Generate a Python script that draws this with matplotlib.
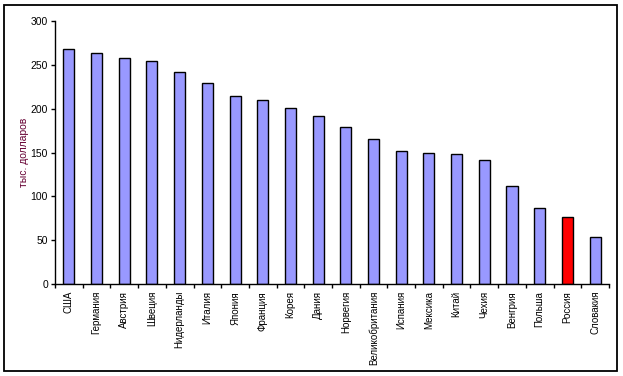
import matplotlib.pyplot as plt
import numpy as np
from matplotlib.patches import Rectangle

countries = ['США', 'Германия', 'Австрия', 'Швеция', 'Нидерланды', 'Италия',
             'Япония', 'Франция', 'Корея', 'Дания', 'Норвегия', 'Великобритания',
             'Испания', 'Мексика', 'Китай', 'Чехия', 'Венгрия', 'Польша',
             'Россия', 'Словакия']
values = [268, 263, 258, 254, 242, 229, 214, 210, 201, 192, 179, 166,
          152, 149, 148, 142, 112, 87, 76, 54]
highlight = 'Россия'

plt.rcParams['font.family'] = ['Liberation Sans', 'DejaVu Sans']

fig = plt.figure(figsize=(6.23, 3.76), dpi=100)
ax = fig.add_axes([0.0883, 0.2447, 0.8892, 0.6993])

x = np.arange(len(countries))
colors = ['#FF0000' if c == highlight else '#9999FF' for c in countries]
ax.bar(x, values, width=0.4, color=colors, edgecolor='black', linewidth=1)

ax.set_xlim(-0.5, len(countries) - 0.5)
ax.set_ylim(0, 300)
ax.set_yticks(range(0, 301, 50))
ax.tick_params(axis='y', direction='out', length=3, width=1, labelsize=7.5, pad=2)

ax.set_xticks(x)
ax.set_xticklabels(countries, rotation=90, fontsize=7)
ax.tick_params(axis='x', which='major', length=0, pad=5)
ax.set_xticks(np.arange(-0.5, len(countries), 1), minor=True)
ax.tick_params(axis='x', which='minor', direction='out', length=3, width=1)

for s in ['top', 'right']:
    ax.spines[s].set_visible(False)
for s in ['left', 'bottom']:
    ax.spines[s].set_linewidth(1)

ax.set_ylabel('тыс. долларов', fontsize=7.5, color='#660033', labelpad=1)

fig.patches.append(Rectangle((0.007, 0.013), 0.983, 0.975, transform=fig.transFigure,
                             fill=False, edgecolor='black', linewidth=1.3))

fig.savefig('out.png', dpi=100)
